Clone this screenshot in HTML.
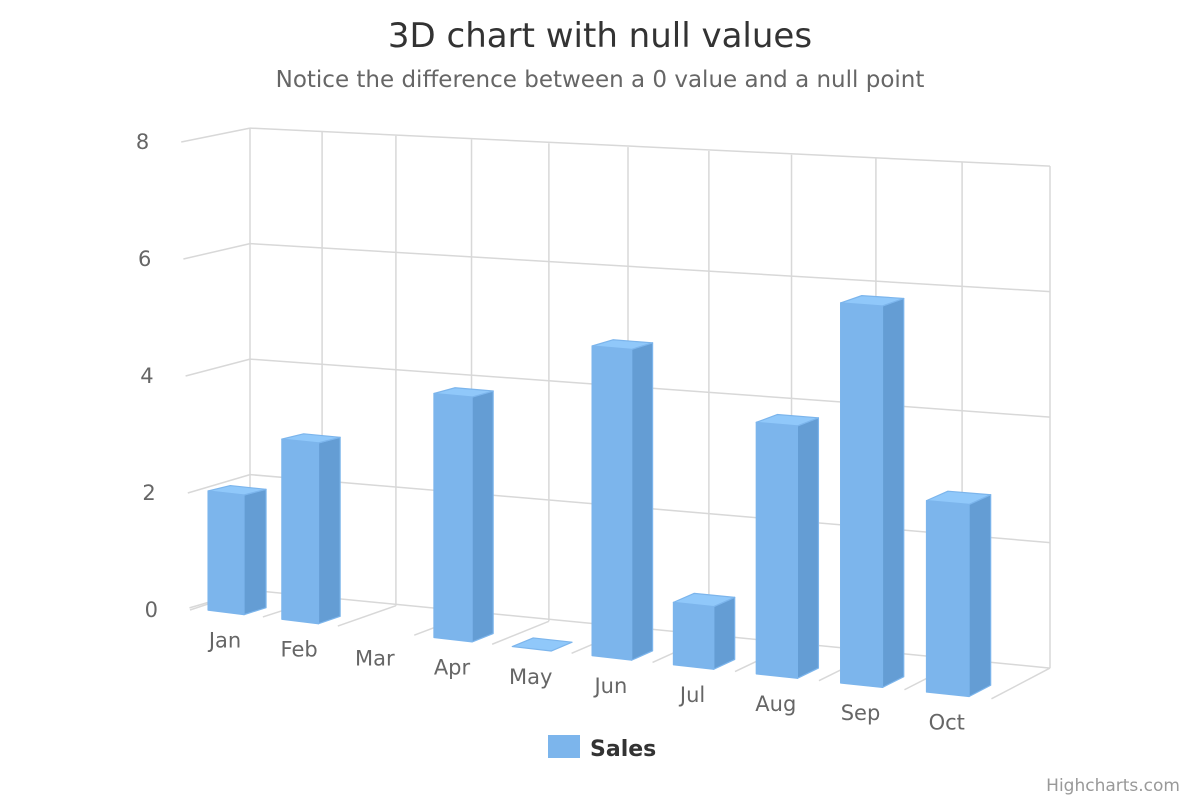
<!DOCTYPE html>
<html><head><meta charset="utf-8"><style>
body{margin:0;background:#fff;}
svg text{font-family:"DejaVu Sans","Liberation Sans",sans-serif;}
</style></head><body>
<svg id="chart" width="1200" height="800" xmlns="http://www.w3.org/2000/svg">
<rect width="1200" height="800" fill="#fff"/>
<text x="600" y="47" text-anchor="middle" font-size="34" fill="#333">3D chart with null values</text>
<text x="600" y="87" text-anchor="middle" font-size="23" fill="#666">Notice the difference between a 0 value and a null point</text>
<g id="grid"></g>
<g id="yaxis"></g>
<g id="bars"></g>
<g id="xaxis"></g>
<g>
<rect x="548" y="735" width="32" height="23" fill="#7cb5ec"/>
<text x="590" y="756" font-size="22" font-weight="bold" fill="#333">Sales</text>
</g>
<text x="1180" y="791" text-anchor="end" font-size="17" fill="#999">Highcharts.com</text>
</svg>
<script>
const categories=["Jan","Feb","Mar","Apr","May","Jun","Jul","Aug","Sep","Oct"];
const salesValues=[2,3,null,4,0,5,1,4,6,3];
const yTicks=[0,2,4,6,8];
const yMax=8;

const NS="http://www.w3.org/2000/svg";
function mk(tag,attrs,parent){const e=document.createElementNS(NS,tag);for(const k in attrs)e.setAttribute(k,attrs[k]);parent.appendChild(e);return e;}
function frontX(k){return 226+73.4*k+0.755*k*k;}
function backX(k){const u=k+0.5;return 250+71.2*u+0.88*u*u;}
function px(k,z){return frontX(k)*(1-z)+backX(k)*z;}
function py(v,k,z){
  const y0F=612.4+9.1*k, sF=59.7+0.47*k;
  const y0B=594+7.8*k, sB=57.75+0.5*(k+0.5);
  const y0=y0F+(y0B-y0F)*z, s=sF+(sB-sF)*z;
  return y0-s*v;
}
const n=categories.length;
const grid=document.getElementById('grid');
const gc="#d8d8d8";
const kL=-0.5,kR=n-0.5;
yTicks.forEach(v=>{
  const l=mk('line',{x1:px(kL,1),y1:py(v,kL,1),x2:px(kR,1),y2:py(v,kR,1),stroke:gc,'stroke-width':1.5},grid);
  
  
  const s=mk('line',{x1:190-1.1*v,y1:610-58.5*v,x2:px(kL,1),y2:py(v,kL,1),stroke:gc,'stroke-width':1.5},grid);
  
  
});
for(let i=0;i<=n;i++){
  const k=i-0.5;
  const v=mk('line',{x1:px(k,1),y1:py(0,k,1),x2:px(k,1),y2:py(yMax,k,1),stroke:gc,'stroke-width':1.5},grid);
  
  
  const f=mk('line',{x1:px(k,1),y1:py(0,k,1),x2:px(k,0),y2:py(0,k,0),stroke:gc,'stroke-width':1.5},grid);
  
  
}
const yaxis=document.getElementById('yaxis');
yTicks.forEach(v=>{
  const t=mk('text',{x:158-1.1*v,y:617-58.5*v,'text-anchor':'end','font-size':21,fill:'#666'},yaxis);
  t.textContent=v;
  
  
});
const bars=document.getElementById('bars');
const hw=0.245, dz=0.37;
function poly(pts,fill,parent){return mk('polygon',{points:pts.map(p=>p.join(',')).join(' '),fill:fill,stroke:'#7cb5ec','stroke-width':1.2,'stroke-linejoin':'round'},parent);}
salesValues.forEach((val,i)=>{
  if(val===null)return;
  const a=i-hw,b=i+hw;
  const g=mk('g',{},bars);
  
  
  const P=(k,v,z)=>[px(k,z),py(v,k,z)];
  if(val>0){
    poly([P(a,0,0),P(b,0,0),P(b,val,0),P(a,val,0)],'#7cb5ec',g);
    poly([P(b,0,0),P(b,0,dz),P(b,val,dz),P(b,val,0)],'#649dd4',g);
  }
  poly([P(a,val,0),P(b,val,0),P(b,val,dz),P(a,val,dz)],'#90c8fa',g);
});
const xaxis=document.getElementById('xaxis');
categories.forEach((c,i)=>{
  const t=mk('text',{x:px(i,0)-1,y:py(0,i,0)+35,'text-anchor':'middle','font-size':21,fill:'#666'},xaxis);
  t.textContent=c;
  
  
});
</script>
</body></html>
